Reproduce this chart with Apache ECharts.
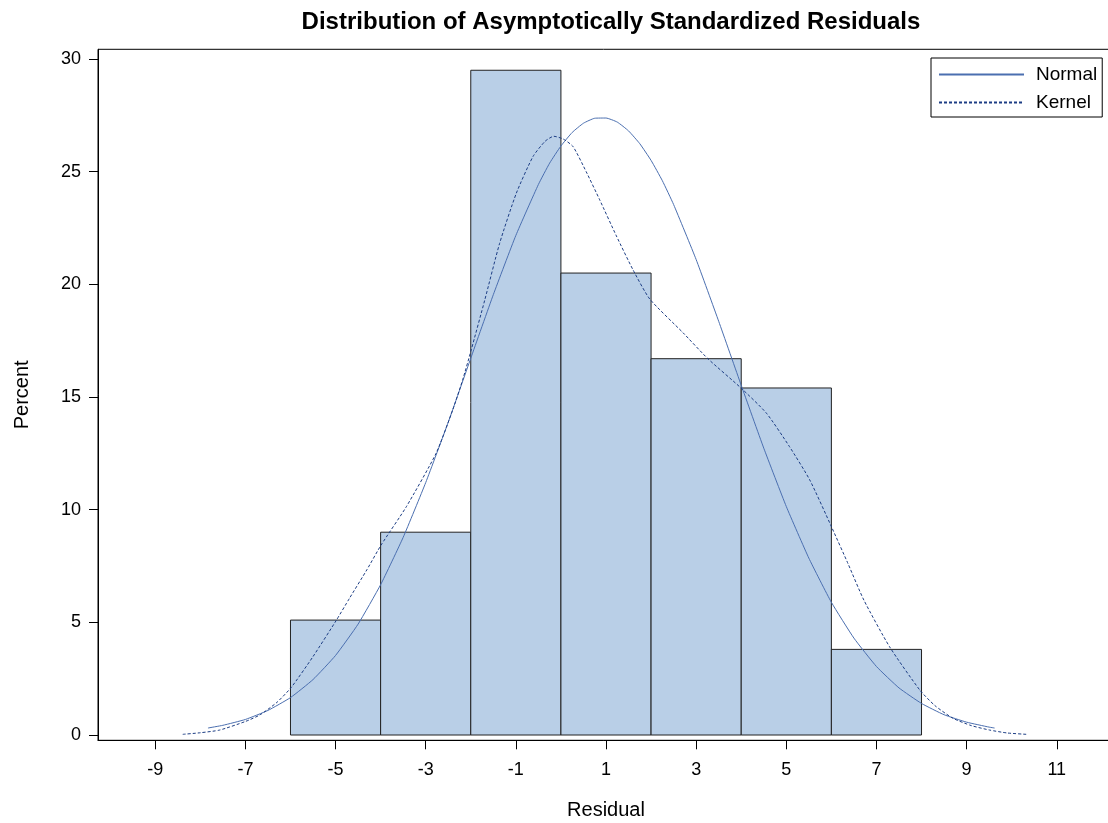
<!DOCTYPE html>
<html>
<head>
<meta charset="utf-8">
<script src="https://cdn.jsdelivr.net/npm/echarts@6/dist/echarts.min.js"></script>
<style>html,body{margin:0;padding:0;background:#fff}#chart{width:1108px;height:823px}</style>
</head>
<body>
<div id="chart"></div>
<script>
// Histogram bins: [start, end, percent]
const binStarts = [-6, -4, -2, 0, 2, 4, 6];
const binEnds   = [-4, -2, 0, 2, 4, 6, 8];
const binPercents = [5.1, 9.0, 29.5, 20.5, 16.7, 15.4, 3.8];

// Normal density curve
const normalX = [-7.83, -7.5, -7, -6.5, -6, -5.5, -5, -4.5, -4, -3.5, -3, -2.5, -2, -1.5, -1, -0.5, -0.25, 0, 0.25, 0.5, 0.75, 1, 1.25, 1.5, 1.75, 2, 2.25, 2.5, 3, 3.5, 4, 4.5, 5, 5.5, 6, 6.5, 7, 7.5, 8, 8.5, 9, 9.5, 9.62];
const normalY = [0.31, 0.43, 0.69, 1.09, 1.66, 2.46, 3.53, 4.92, 6.67, 8.77, 11.2, 13.88, 16.72, 19.54, 22.17, 24.43, 25.38, 26.14, 26.74, 27.15, 27.37, 27.38, 27.2, 26.81, 26.24, 25.5, 24.6, 23.54, 21.1, 18.36, 15.52, 12.73, 10.14, 7.85, 5.89, 4.3, 3.04, 2.09, 1.4, 0.9, 0.57, 0.35, 0.31];

// Kernel density curve
const kernelX = [-8.39, -8.0, -7.57, -7.0, -6.68, -6.3, -5.98, -5.5, -4.98, -4.69, -4.3, -3.99, -3.43, -2.77, -2.4, -2.18, -1.99, -1.69, -1.36, -0.99, -0.62, -0.35, -0.16, 0.05, 0.27, 0.56, 0.86, 1.23, 1.6, 1.97, 2.71, 3.26, 4.0, 4.56, 5.07, 5.52, 6.0, 6.37, 6.72, 7.29, 7.96, 8.3, 8.7, 9.1, 9.51, 9.9, 10.33];
const kernelY = [0.03, 0.1, 0.22, 0.6, 0.89, 1.45, 2.12, 3.48, 5.1, 6.07, 7.35, 8.43, 10.13, 12.5, 14.43, 15.76, 17.09, 19.3, 21.82, 24.04, 25.67, 26.35, 26.57, 26.45, 26.11, 25.0, 23.75, 22.15, 20.64, 19.35, 17.85, 16.7, 15.39, 14.28, 12.8, 11.32, 9.25, 7.6, 5.99, 3.92, 2.0, 1.3, 0.74, 0.42, 0.22, 0.09, 0.03];

const xTicks = [-9, -7, -5, -3, -1, 1, 3, 5, 7, 9, 11];
const yTicks = [0, 5, 10, 15, 20, 25, 30];

const FONT = "'Liberation Sans', Arial, sans-serif";

const binData = binStarts.map((s, i) => [s, binEnds[i], binPercents[i]]);
const normalData = normalX.map((x, i) => [x, normalY[i]]);
const kernelData = kernelX.map((x, i) => [x, kernelY[i]]);

const chart = echarts.init(document.getElementById('chart'), null, {renderer: 'canvas'});
chart.setOption({
  animation: false,
  backgroundColor: '#ffffff',
  title: {
    text: 'Distribution of Asymptotically Standardized Residuals',
    left: 606, top: 5, textAlign: 'center',
    textStyle: {fontFamily: FONT, fontSize: 24, fontWeight: 'bold', color: '#000'}
  },
  legend: {
    orient: 'vertical',
    left: 931, top: 58,
    data: [{name: 'Normal'}, {name: 'Kernel'}],
    itemWidth: 85, itemHeight: 14, itemGap: 9,
    padding: [7, 5, 5, 7],
    borderColor: '#000', borderWidth: 1,
    itemStyle: {opacity: 0},
    textStyle: {fontFamily: FONT, fontSize: 19, lineHeight: 19, color: '#000', padding: [0, 0, 0, 7]}
  },
  grid: {
    left: 98, top: 49.3, width: 1016, height: 691,
    show: true, borderColor: '#000', borderWidth: 1,
    containLabel: false, outerBoundsMode: 'none'
  },
  xAxis: {
    type: 'value', min: -10.27, max: 12.27,
    name: 'Residual', nameLocation: 'middle', nameGap: 60,
    nameTextStyle: {fontFamily: FONT, fontSize: 20, color: '#000'},
    axisLine: {show: true, onZero: false, lineStyle: {color: '#000', width: 1}},
    axisTick: {show: true, length: 9, inside: false, customValues: xTicks, lineStyle: {color: '#000'}},
    axisLabel: {customValues: xTicks, margin: 21, fontFamily: FONT, fontSize: 18, color: '#000'},
    splitLine: {show: false}
  },
  yAxis: {
    type: 'value', min: -0.235, max: 30.43,
    name: 'Percent', nameLocation: 'middle', nameGap: 66, nameRotate: 90,
    nameTextStyle: {fontFamily: FONT, fontSize: 20, color: '#000'},
    axisLine: {show: true, onZero: false, lineStyle: {color: '#000', width: 1}},
    axisTick: {show: true, length: 9, customValues: yTicks, lineStyle: {color: '#000'}},
    axisLabel: {customValues: yTicks, margin: 17, fontFamily: FONT, fontSize: 18, color: '#000'},
    splitLine: {show: false}
  },
  series: [
    {
      name: 'Bins',
      type: 'custom',
      data: binData,
      encode: {x: [0, 1], y: 2},
      renderItem: function (params, api) {
        const p0 = api.coord([api.value(0), 0]);
        const p1 = api.coord([api.value(1), api.value(2)]);
        return {
          type: 'rect',
          shape: {x: p0[0], y: p1[1], width: p1[0] - p0[0], height: p0[1] - p1[1]},
          style: {fill: '#b9cfe7', stroke: '#222', lineWidth: 1}
        };
      },
      z: 1
    },
    {
      name: 'Normal', type: 'line', data: normalData, smooth: 0.15,
      showSymbol: false, symbol: 'none',
      lineStyle: {color: '#4b6fb0', width: 1, type: 'solid'},
      itemStyle: {color: '#4b6fb0'},
      z: 3
    },
    {
      name: 'Kernel', type: 'line', data: kernelData, smooth: 0.2,
      showSymbol: false, symbol: 'none',
      lineStyle: {color: '#1c3d84', width: 1, type: [3, 2]},
      itemStyle: {color: '#1c3d84'},
      z: 3
    }
  ]
});
</script>
</body>
</html>
